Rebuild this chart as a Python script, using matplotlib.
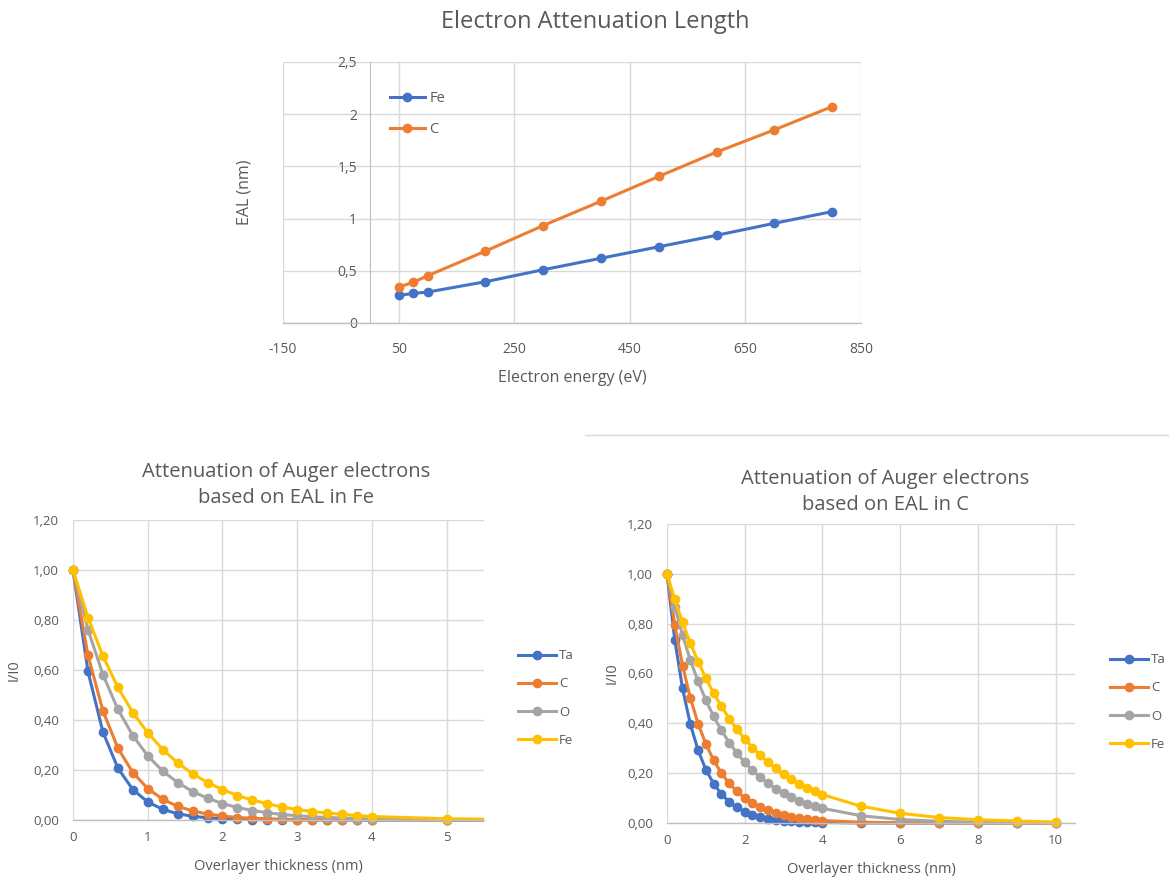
"""
Electron attenuation length (EAL) vs. energy, and the resulting
attenuation of Auger signals through an overlayer of Fe or C.
"""

import matplotlib
matplotlib.use("Agg")
import matplotlib.pyplot as plt
from matplotlib.lines import Line2D
from matplotlib.patches import Rectangle
from matplotlib.ticker import FuncFormatter

plt.rcParams["font.family"] = ["Open Sans", "DejaVu Sans"]
plt.rcParams["axes.unicode_minus"] = False

# --- EAL vs electron energy -------------------------------------------------
energy = [50, 75, 100, 200, 300, 400, 500, 600, 700, 800]
eal_fe = [0.264, 0.283, 0.296, 0.395, 0.510, 0.620, 0.730, 0.840, 0.955, 1.067]
eal_c = [0.344, 0.389, 0.452, 0.688, 0.933, 1.166, 1.404, 1.637, 1.850, 2.073]

# --- overlayer thickness (nm) ------------------------------------------------
thickness = [0.0, 0.2, 0.4, 0.6, 0.8, 1.0, 1.2, 1.4, 1.6, 1.8, 2.0,
             2.2, 2.4, 2.6, 2.8, 3.0, 3.2, 3.4, 3.6, 3.8, 4.0,
             5, 6, 7, 8, 9, 10]

# I/I0 through an Fe overlayer
fe_ta = [1.000, 0.595, 0.352, 0.208, 0.122, 0.072, 0.043, 0.025, 0.015, 0.009, 0.005,
         0.003, 0.002, 0.001, 0.001, 0.000, 0.000, 0.000, 0.000, 0.000, 0.000,
         0.000, 0.000, 0.000, 0.000, 0.000, 0.000]
fe_c = [1.000, 0.660, 0.437, 0.288, 0.190, 0.126, 0.083, 0.055, 0.036, 0.024, 0.016,
        0.010, 0.007, 0.005, 0.003, 0.002, 0.001, 0.001, 0.001, 0.000, 0.000,
        0.000, 0.000, 0.000, 0.000, 0.000, 0.000]
fe_o = [1.000, 0.762, 0.582, 0.443, 0.338, 0.257, 0.196, 0.150, 0.114, 0.087, 0.066,
        0.050, 0.038, 0.029, 0.022, 0.017, 0.013, 0.010, 0.008, 0.006, 0.004,
        0.001, 0.000, 0.000, 0.000, 0.000, 0.000]
fe_fe = [1.000, 0.810, 0.656, 0.531, 0.430, 0.349, 0.282, 0.229, 0.185, 0.150, 0.122,
         0.098, 0.080, 0.065, 0.052, 0.042, 0.034, 0.028, 0.023, 0.018, 0.014,
         0.005, 0.002, 0.001, 0.000, 0.000, 0.000]

# I/I0 through a C overlayer
c_ta = [1.000, 0.735, 0.540, 0.397, 0.292, 0.214, 0.158, 0.116, 0.085, 0.063, 0.046,
        0.034, 0.025, 0.018, 0.013, 0.010, 0.007, 0.005, 0.004, 0.003, 0.002,
        0.000, 0.000, 0.000, 0.000, 0.000, 0.000]
c_c = [1.000, 0.795, 0.632, 0.502, 0.399, 0.317, 0.252, 0.200, 0.159, 0.127, 0.101,
       0.080, 0.064, 0.051, 0.040, 0.032, 0.025, 0.020, 0.016, 0.013, 0.010,
       0.003, 0.001, 0.000, 0.000, 0.000, 0.000]
c_o = [1.000, 0.868, 0.754, 0.654, 0.568, 0.493, 0.428, 0.372, 0.323, 0.280, 0.243,
       0.211, 0.183, 0.159, 0.138, 0.120, 0.104, 0.090, 0.078, 0.068, 0.059,
       0.029, 0.014, 0.007, 0.003, 0.002, 0.001]
c_fe = [1.000, 0.897, 0.805, 0.722, 0.648, 0.581, 0.521, 0.468, 0.419, 0.376, 0.338,
        0.303, 0.272, 0.244, 0.219, 0.196, 0.176, 0.158, 0.142, 0.127, 0.114,
        0.067, 0.039, 0.022, 0.013, 0.008, 0.004]

elements = ["Ta", "C", "O", "Fe"]

BLUE, ORANGE, GRAY, GOLD = "#4472C4", "#ED7D31", "#A5A5A5", "#FFC000"
TEXT = "#595959"
GRID = "#D9D9D9"
AXIS = "#BFBFBF"

W, H = 1169, 889


def px_axes(fig, left, right, top, bottom):
    return fig.add_axes([left / W, (H - bottom) / H, (right - left) / W, (bottom - top) / H])


def comma(fmt):
    return FuncFormatter(lambda v, _: format(v, fmt).replace(".", ","))


def style(ax):
    for side in ("top", "right", "left"):
        ax.spines[side].set_visible(False)
    ax.spines["bottom"].set_color(AXIS)
    ax.spines["bottom"].set_linewidth(1.0)
    ax.grid(True, color=GRID, linewidth=1.0)
    ax.set_axisbelow(True)
    ax.tick_params(length=0, colors=TEXT, labelsize=9.5)


def series(ax, x, y, color, label, clip=None):
    line, = ax.plot(x, y, color=color, lw=2.2, marker="o", ms=6,
                    label=label, solid_joinstyle="round")
    if clip is not None:
        line.set_clip_path(clip)
    else:
        line.set_clip_on(False)
    return line


fig = plt.figure(figsize=(W / 100, H / 100), dpi=100)
fig.patch.set_facecolor("white")

# ---------------------------------------------------------------- top chart
ax = px_axes(fig, 283, 861, 62, 323)
style(ax)
ax.spines["left"].set_visible(True)
ax.spines["left"].set_position(("data", 0))
ax.spines["left"].set_color(AXIS)
ax.set_xlim(-150, 850)
ax.set_ylim(0, 2.5)
ax.set_xticks([-150, 50, 250, 450, 650, 850])
ax.set_yticks([0, 0.5, 1, 1.5, 2, 2.5])
ax.yaxis.set_major_formatter(FuncFormatter(lambda v, _: f"{v:g}".replace(".", ",")))
ax.tick_params(axis="x", pad=14, labelsize=10)
ax.tick_params(axis="y", pad=9, labelsize=10)
series(ax, energy, eal_fe, BLUE, "Fe")
series(ax, energy, eal_c, ORANGE, "C")
ax.set_xlabel("Electron energy (eV)", color=TEXT, fontsize=11.5, labelpad=9)
ax.set_ylabel("EAL (nm)", color=TEXT, fontsize=11.5)
ax.yaxis.set_label_coords(-0.053, 0.5)
ax.legend(loc="center left", bbox_to_anchor=(390 / W, (H - 114) / H),
          bbox_transform=fig.transFigure, frameon=False, fontsize=10.5,
          labelcolor=TEXT, handlelength=2.4, handletextpad=0.3,
          labelspacing=1.1, borderpad=0, borderaxespad=0)
fig.text(595 / W, (H - 22) / H, "Electron Attenuation Length", ha="center",
         va="center", fontsize=17, color=TEXT)

# separator line above the right-hand chart
fig.add_artist(Line2D([585 / W, 1.0], [(H - 435) / H] * 2, color=GRID, lw=1.0))


def attenuation_panel(box, xmax, xticks, curves, ylabel_x, legend_xy):
    ax = px_axes(fig, *box)
    style(ax)
    ax.set_xlim(0, xmax)
    ax.set_ylim(0, 1.2)
    ax.set_xticks(xticks)
    ax.set_yticks([0, 0.2, 0.4, 0.6, 0.8, 1.0, 1.2])
    ax.yaxis.set_major_formatter(comma(".2f"))
    ax.tick_params(axis="x", pad=8)
    ax.tick_params(axis="y", pad=10)
    clip = Rectangle((-0.04, -0.04), 1.04, 1.1, transform=ax.transAxes,
                     facecolor="none", edgecolor="none")
    for y, color, name in zip(curves, [BLUE, ORANGE, GRAY, GOLD], elements):
        series(ax, thickness, y, color, name, clip=clip)
    ax.set_xlabel("Overlayer thickness (nm)", color=TEXT, fontsize=10.5, labelpad=11)
    ax.set_ylabel("I/I0", color=TEXT, fontsize=10.5)
    ax.yaxis.set_label_coords(ylabel_x, 0.5)
    ax.legend(loc="center left", bbox_to_anchor=legend_xy,
              bbox_transform=fig.transFigure, frameon=False, fontsize=9.5,
              labelcolor=TEXT, handlelength=2.9, handletextpad=0.2,
              labelspacing=1.15, borderpad=0, borderaxespad=0)
    return ax


ax_fe = attenuation_panel((73, 484, 520, 820), 5.5, [0, 1, 2, 3, 4, 5],
                          [fe_ta, fe_c, fe_o, fe_fe], -0.124,
                          (518 / W, (H - 698) / H))
fig.text(286 / W, (H - 485) / H,
         "Attenuation of Auger electrons\nbased on EAL in Fe",
         ha="center", va="center", fontsize=14.5, color=TEXT, linespacing=1.35)

ax_c = attenuation_panel((667, 1075, 524, 823), 10.5, [0, 2, 4, 6, 8, 10],
                         [c_ta, c_c, c_o, c_fe], -0.115,
                         (1110 / W, (H - 702) / H))
fig.text(885 / W, (H - 492) / H,
         "Attenuation of Auger electrons\nbased on EAL in C",
         ha="center", va="center", fontsize=14.5, color=TEXT, linespacing=1.35)

fig.savefig("out.png", dpi=100, facecolor="white")
